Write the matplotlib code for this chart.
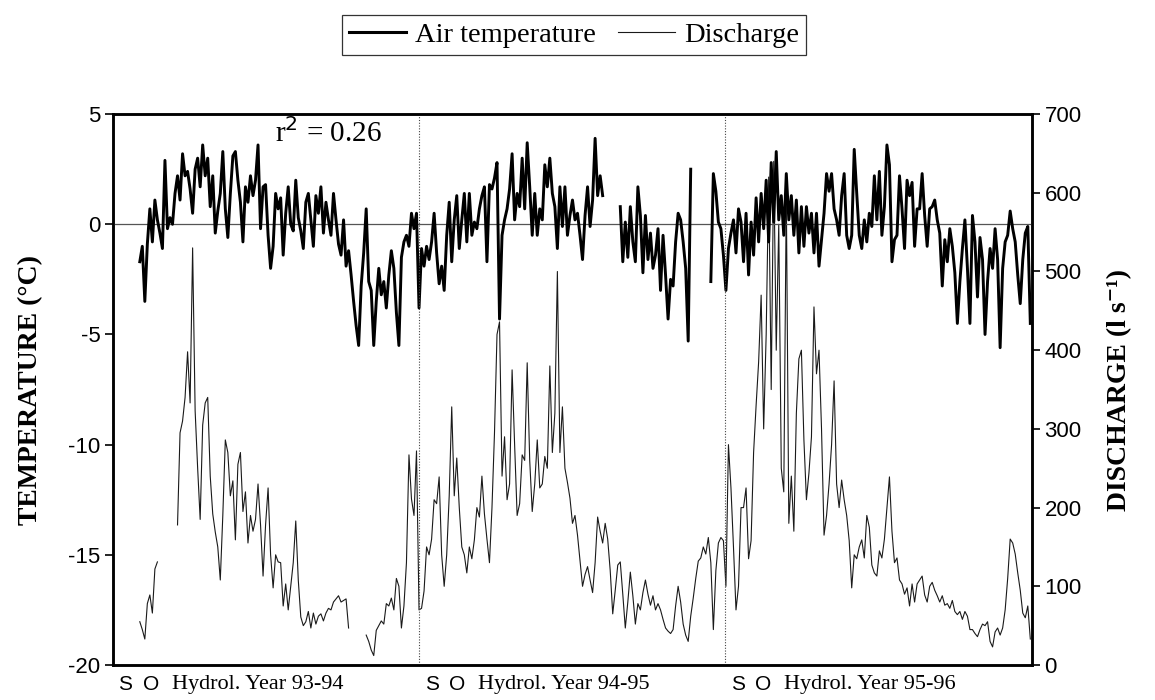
import matplotlib
matplotlib.use('Agg')
import matplotlib.pyplot as plt
import matplotlib.transforms as mtransforms
from matplotlib.lines import Line2D
import numpy as np

plt.rcParams['axes.unicode_minus'] = False

# daily record sampled every 3 days, first sample on day 32 after 1 September 1993
start_day = 32
step_days = 3

temperature = [
    -1.7, -1.0, -3.5, -0.9, 0.7, -0.8, 1.1, 0.2, -0.4, -1.1,
    2.9, -0.2, 0.3, 0.0, 1.4, 2.2, 1.1, 3.2, 2.2, 2.4,
    1.6, 0.5, 2.5, 3.0, 1.7, 3.6, 2.2, 3.0, 0.8, 2.2,
    -0.4, 0.6, 1.4, 3.3, 0.7, -0.6, 1.4, 3.1, 3.3, 2.0,
    1.0, -0.8, 1.7, 1.0, 2.2, 1.3, 2.0, 3.6, -0.2, 1.7,
    1.8, -0.5, -2.0, -1.0, 1.4, 0.7, 1.2, -1.4, 0.5, 1.7,
    0.0, -0.3, 2.0, 0.3, -0.3, -1.1, 1.0, 1.4, 0.2, -1.0,
    1.3, 0.5, 1.7, -0.4, 1.0, 0.2, -0.5, 1.4, 0.2, -0.9,
    -1.4, 0.2, -1.9, -1.2, -2.3, -3.5, -4.6, -5.5, -2.8, -1.3,
    0.7, -2.6, -3.0, -5.5, -3.5, -2.0, -3.2, -2.6, -3.8, -2.3,
    -1.2, -2.0, -4.0, -5.5, -1.5, -0.8, -0.5, -1.0, 0.5, -0.2,
    0.5, -3.8, -1.1, -1.9, -1.0, -1.6, -0.8, 0.5, -1.3, -2.7,
    -1.9, -3.0, -0.5, 1.0, -1.7, 0.2, 1.3, -1.1, 0.2, 1.4,
    -0.8, 1.4, -0.5, 0.1, -0.2, 0.7, 1.3, 1.7, -1.7, 1.8,
    1.6, 2.1, 2.8, -4.3, -0.5, 0.2, 0.7, 1.6, 3.2, 0.2,
    1.4, 0.8, 3.0, 0.7, 3.7, 1.7, -0.5, 1.4, -0.5, 0.7,
    0.2, 2.7, 1.7, 3.0, 1.4, 0.8, -1.1, 1.7, -0.1, 1.7,
    -0.5, 0.4, 1.1, 0.2, 0.5, -0.5, -1.6, 0.4, 1.7, -0.1,
    1.1, 3.9, 1.3, 2.2, 1.3, None, None, None, None, None,
    None, 0.8, -1.7, 0.1, -1.5, 0.8, -0.8, -1.7, 1.7, 0.4,
    -2.2, 0.4, -1.6, -0.4, -2.0, -1.4, -0.2, -3.0, -0.5, -2.3,
    -4.3, -2.5, -2.8, -0.8, 0.5, 0.2, -0.8, -2.0, -5.3, 2.5,
    None, None, None, None, None, None, None, -2.6, 2.3, 1.5,
    0.1, -0.2, -1.4, -3.0, -1.1, -0.4, 0.2, -1.3, 0.7, 0.1,
    -1.7, 0.5, -2.3, 0.1, -1.4, 1.2, -0.8, 1.4, -0.2, 2.0,
    -0.8, 2.8, 0.1, 3.3, 0.2, 1.3, -0.5, 2.3, 0.2, 1.3,
    -0.5, 1.1, -1.3, 0.8, -1.0, 0.8, -0.4, 0.5, -1.3, 0.5,
    -1.9, -0.7, 0.5, 2.3, 1.5, 2.3, 0.7, 0.2, -0.5, 1.3,
    2.3, -0.5, -1.1, -0.5, 3.4, 1.4, -0.5, -1.1, 0.2, -0.8,
    0.5, -0.1, 2.2, 0.2, 2.4, -0.5, 0.8, 3.6, 2.7, -1.7,
    -0.7, -0.5, 2.2, 0.7, -1.1, 2.0, 1.3, 1.9, -1.0, 0.7,
    0.7, 2.3, 0.4, -1.0, 0.7, 0.8, 1.1, 0.2, -0.4, -2.8,
    -0.7, -1.7, -0.2, -1.0, -2.2, -4.5, -2.6, -1.1, 0.2, -2.0,
    -4.5, 0.4, -0.8, -3.3, -0.6, -1.6, -5.0, -2.6, -1.1, -2.0,
    -0.2, -1.6, -5.6, -2.0, -0.8, -0.5, 0.6, -0.2, -0.8, -2.3,
    -3.6, -1.6, -0.4, -0.1, -4.5,
]

discharge = [
    55, 45, 33, 78, 89, 66, 122, 131, None, None,
    None, None, None, None, None, 178, 295, 310, 340, 398,
    333, 530, 323, 250, 185, 305, 333, 340, 240, 192,
    169, 150, 108, 190, 286, 270, 215, 234, 159, 255,
    270, 195, 220, 155, 190, 170, 185, 230, 178, 113,
    178, 225, 140, 98, 140, 131, 130, 75, 103, 70,
    100, 130, 183, 108, 61, 50, 55, 68, 47, 66,
    52, 62, 65, 56, 66, 72, 70, 80, 84, 88,
    80, 82, 84, 47, None, None, None, None, None, None,
    38, 30, 19, 12, 44, 50, 56, 52, 78, 75,
    85, 70, 110, 100, 47, 75, 130, 267, 211, 190,
    272, 70, 72, 94, 150, 140, 160, 210, 205, 239,
    140, 100, 140, 215, 328, 215, 263, 200, 150, 140,
    117, 150, 135, 159, 200, 188, 240, 192, 160, 130,
    200, 295, 420, 436, 240, 290, 210, 230, 375, 280,
    190, 205, 267, 260, 384, 260, 195, 230, 286, 225,
    230, 265, 250, 380, 270, 320, 500, 270, 328, 250,
    232, 212, 180, 190, 165, 132, 100, 115, 125, 108,
    92, 130, 188, 170, 155, 180, 160, 120, 65, 95,
    127, 131, 90, 47, 80, 118, 88, 52, 78, 70,
    92, 108, 90, 76, 88, 70, 78, 70, 58, 47,
    43, 40, 45, 75, 100, 80, 52, 38, 30, 62,
    85, 110, 132, 136, 150, 141, 162, 130, 45, 120,
    155, 162, 158, 100, 280, 225, 150, 70, 100, 200,
    200, 225, 135, 158, 270, 330, 385, 470, 300, 420,
    620, 350, 640, 400, 560, 250, 220, 600, 180, 240,
    170, 320, 389, 400, 286, 210, 244, 290, 455, 370,
    400, 300, 165, 190, 230, 280, 361, 230, 200, 235,
    210, 190, 158, 98, 140, 135, 150, 159, 136, 190,
    175, 127, 117, 113, 145, 136, 160, 200, 239, 170,
    130, 136, 108, 103, 90, 98, 75, 103, 80, 103,
    108, 113, 89, 80, 100, 105, 95, 88, 80, 88,
    76, 78, 72, 82, 68, 64, 68, 58, 68, 62,
    45, 45, 40, 36, 45, 52, 50, 55, 30, 23,
    42, 47, 38, 47, 70, 110, 160, 155, 141, 117,
    95, 66, 60, 75, 33,
]

year_starts = [0, 365, 730]
year_labels = ['Hydrol. Year 93-94', 'Hydrol. Year 94-95', 'Hydrol. Year 95-96']
total_days = 1096

temp = np.array(temperature, dtype=float)
disc = np.array(discharge, dtype=float)
days_t = start_day + step_days * np.arange(len(temp))
days_q = start_day + step_days * np.arange(len(disc))

serif = 'Liberation Serif'
sans = 'Liberation Sans'

fig = plt.figure(figsize=(11.55, 7.0), dpi=100)
ax = fig.add_axes([0.0978, 0.05, 0.7957, 0.787])
ax2 = ax.twinx()

ax2.plot(days_q, disc, color='#1a1a1a', lw=0.8)
ax.plot(days_t, temp, color='black', lw=2.1)
ax.axhline(0, color='#555555', lw=0.9, zorder=0)
for d in year_starts[1:]:
    ax.axvline(d, color='#444444', lw=0.8, ls=(0, (1, 1.5)))

ax.set_zorder(ax2.get_zorder() + 1)
ax.patch.set_visible(False)

ax.set_xlim(0, total_days)
ax.set_ylim(-20, 5)
ax2.set_ylim(0, 700)
ax.set_yticks([5, 0, -5, -10, -15, -20])
ax2.set_yticks(range(0, 701, 100))
ax.set_xticks([])

for a in (ax, ax2):
    for s in a.spines.values():
        s.set_linewidth(1.8)
    a.tick_params(axis='y', length=6, width=1.2, labelsize=16, pad=3)
    for lab in a.get_yticklabels():
        lab.set_family(sans)

ax.set_ylabel('TEMPERATURE (°C)', family=serif, fontweight='bold', fontsize=20, labelpad=18)
ax2.set_ylabel('DISCHARGE (l s⁻¹)', family=[serif, 'DejaVu Serif'], fontweight='bold',
               fontsize=20, labelpad=18)

ax.text(193, 4.15, 'r$^2$ = 0.26', family=serif, fontsize=21, va='center', ha='left')

trans = mtransforms.blended_transform_factory(ax.transData, ax.transAxes)
for d, lbl in zip(year_starts, year_labels):
    ax.text(d + 15, -0.035, 'S', transform=trans, family=sans, fontsize=15, ha='center', va='center')
    ax.text(d + 45, -0.035, 'O', transform=trans, family=sans, fontsize=15, ha='center', va='center')
    ax.text(d + 70, -0.035, lbl, transform=trans, family=serif, fontsize=16, ha='left', va='center')

handles = [Line2D([], [], color='black', lw=2.2), Line2D([], [], color='#1a1a1a', lw=0.8)]
leg = fig.legend(handles, ['Air temperature', 'Discharge'], loc='center', bbox_to_anchor=(0.497, 0.95),
                 ncol=2, frameon=True, fancybox=False, edgecolor='black',
                 prop={'family': serif, 'size': 20.5}, handlelength=2.0, handletextpad=0.3,
                 columnspacing=0.8, borderpad=0.25)
leg.get_frame().set_linewidth(0.9)

fig.savefig('out.png', dpi=100)
